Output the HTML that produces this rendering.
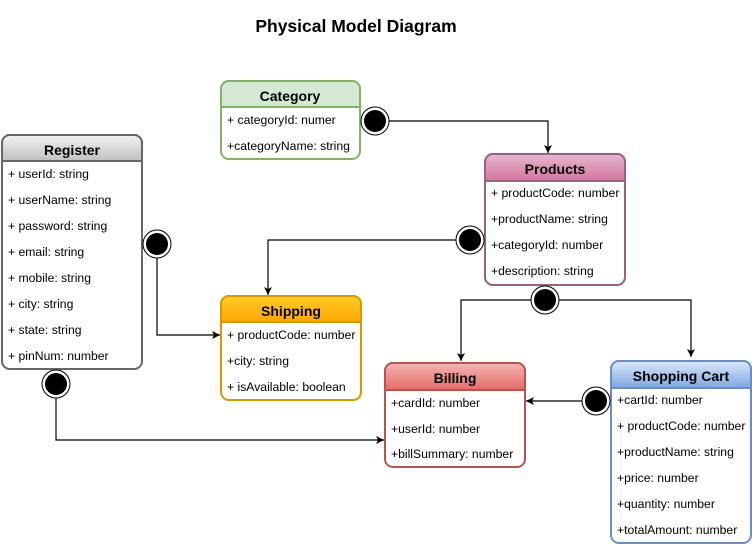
<!DOCTYPE html>
<html><head><style>
body{margin:0;background:#fff;}
svg text{font-family:"Liberation Sans",Arial,sans-serif;}
</style></head><body>
<svg width="752" height="547" xmlns="http://www.w3.org/2000/svg">
<defs>
<marker id="a" markerWidth="10" markerHeight="10" refX="8" refY="5" orient="auto" markerUnits="userSpaceOnUse">
<path d="M0,1 L8,5 L0,9 L2,5 Z" fill="#000"/></marker>
<linearGradient id="gR" x1="0" y1="0" x2="0" y2="1"><stop offset="0" stop-color="#f2f2f2"/><stop offset="1" stop-color="#c0c0c0"/></linearGradient>
<linearGradient id="gP" x1="0" y1="0" x2="0" y2="1"><stop offset="0" stop-color="#e6b8cf"/><stop offset="1" stop-color="#d5739d"/></linearGradient>
<linearGradient id="gS" x1="0" y1="0" x2="0" y2="1"><stop offset="0" stop-color="#ffcd28"/><stop offset="1" stop-color="#ffa500"/></linearGradient>
<linearGradient id="gB" x1="0" y1="0" x2="0" y2="1"><stop offset="0" stop-color="#f4b6b4"/><stop offset="1" stop-color="#e56b67"/></linearGradient>
<linearGradient id="gC" x1="0" y1="0" x2="0" y2="1"><stop offset="0" stop-color="#dae8fc"/><stop offset="1" stop-color="#7ea6e0"/></linearGradient>
</defs>
<text x="356" y="32" font-size="17.5" font-weight="bold" text-anchor="middle">Physical Model Diagram</text>

<g fill="none" stroke="#000" stroke-width="1.2">
<path d="M388,121 H548 V153" marker-end="url(#a)"/>
<path d="M457,240 H268 V295" marker-end="url(#a)"/>
<path d="M157,257 V335 H220" marker-end="url(#a)"/>
<path d="M56,397 V440 H384" marker-end="url(#a)"/>
<path d="M531,300 H461 V361" marker-end="url(#a)"/>
<path d="M559,300 H691 V357" marker-end="url(#a)"/>
<path d="M582,401 H526" marker-end="url(#a)"/>
</g>

<!-- Register -->
<rect x="2" y="135" width="140" height="234" rx="8" fill="#fff" stroke="#666" stroke-width="2"/>
<path d="M2,161 V143 a8,8 0 0 1 8,-8 H134 a8,8 0 0 1 8,8 V161 Z" fill="url(#gR)" stroke="#666" stroke-width="2"/>
<text x="72" y="155" font-size="14" font-weight="bold" text-anchor="middle">Register</text>
<g font-size="12.2"><text x="8" y="178">+ userId: string</text><text x="8" y="204">+ userName: string</text><text x="8" y="230">+ password: string</text><text x="8" y="256">+ email: string</text><text x="8" y="282">+ mobile: string</text><text x="8" y="308">+ city: string</text><text x="8" y="334">+ state: string</text><text x="8" y="360">+ pinNum: number</text></g>

<!-- Category -->
<rect x="221" y="81" width="139" height="78" rx="8" fill="#fff" stroke="#82b366" stroke-width="2"/>
<path d="M221,107 V89 a8,8 0 0 1 8,-8 H352 a8,8 0 0 1 8,8 V107 Z" fill="#d5e8d4" stroke="#82b366" stroke-width="2"/>
<text x="290" y="101" font-size="14" font-weight="bold" text-anchor="middle">Category</text>
<g font-size="12.2"><text x="227" y="124">+ categoryId: numer</text><text x="227" y="150">+categoryName: string</text></g>

<!-- Products -->
<rect x="485" y="154" width="140" height="131" rx="8" fill="#fff" stroke="#996185" stroke-width="2"/>
<path d="M485,181 V162 a8,8 0 0 1 8,-8 H617 a8,8 0 0 1 8,8 V181 Z" fill="url(#gP)" stroke="#996185" stroke-width="2"/>
<text x="555" y="174" font-size="14" font-weight="bold" text-anchor="middle">Products</text>
<g font-size="12.2"><text x="491" y="197">+ productCode: number</text><text x="491" y="223">+productName: string</text><text x="491" y="249">+categoryId: number</text><text x="491" y="275">+description: string</text></g>

<!-- Shipping -->
<rect x="221" y="296" width="140" height="104" rx="8" fill="#fff" stroke="#d79b00" stroke-width="2"/>
<path d="M221,322 V304 a8,8 0 0 1 8,-8 H353 a8,8 0 0 1 8,8 V322 Z" fill="url(#gS)" stroke="#d79b00" stroke-width="2"/>
<text x="291" y="316" font-size="14" font-weight="bold" text-anchor="middle">Shipping</text>
<g font-size="12.2"><text x="227" y="339">+ productCode: number</text><text x="227" y="365">+city: string</text><text x="227" y="391">+ isAvailable: boolean</text></g>

<!-- Billing -->
<rect x="385" y="363" width="140" height="104" rx="8" fill="#fff" stroke="#b85450" stroke-width="2"/>
<path d="M385,390 V371 a8,8 0 0 1 8,-8 H517 a8,8 0 0 1 8,8 V390 Z" fill="url(#gB)" stroke="#b85450" stroke-width="2"/>
<text x="455" y="383" font-size="14" font-weight="bold" text-anchor="middle">Billing</text>
<g font-size="12.2"><text x="391" y="407">+cardId: number</text><text x="391" y="433">+userId: number</text><text x="391" y="458">+billSummary: number</text></g>

<!-- Shopping Cart -->
<rect x="611" y="361" width="140" height="182" rx="8" fill="#fff" stroke="#6c8ebf" stroke-width="2"/>
<path d="M611,388 V369 a8,8 0 0 1 8,-8 H743 a8,8 0 0 1 8,8 V388 Z" fill="url(#gC)" stroke="#6c8ebf" stroke-width="2"/>
<text x="681" y="381" font-size="14" font-weight="bold" text-anchor="middle">Shopping Cart</text>
<g font-size="12.2"><text x="617" y="404">+cartId: number</text><text x="617" y="430">+ productCode: number</text><text x="617" y="456">+productName: string</text><text x="617" y="482">+price: number</text><text x="617" y="508">+quantity: number</text><text x="617" y="534">+totalAmount: number</text></g>

<!-- circles -->
<g>
<g transform="translate(375,121)"><circle r="14" fill="#fff" stroke="#000"/><circle r="11" fill="#000"/></g>
<g transform="translate(470,240)"><circle r="14" fill="#fff" stroke="#000"/><circle r="11" fill="#000"/></g>
<g transform="translate(157,244)"><circle r="14" fill="#fff" stroke="#000"/><circle r="11" fill="#000"/></g>
<g transform="translate(56,384)"><circle r="14" fill="#fff" stroke="#000"/><circle r="11" fill="#000"/></g>
<g transform="translate(545,300)"><circle r="14" fill="#fff" stroke="#000"/><circle r="11" fill="#000"/></g>
<g transform="translate(596,401)"><circle r="14" fill="#fff" stroke="#000"/><circle r="11" fill="#000"/></g>
</g>
</svg>
</body></html>
